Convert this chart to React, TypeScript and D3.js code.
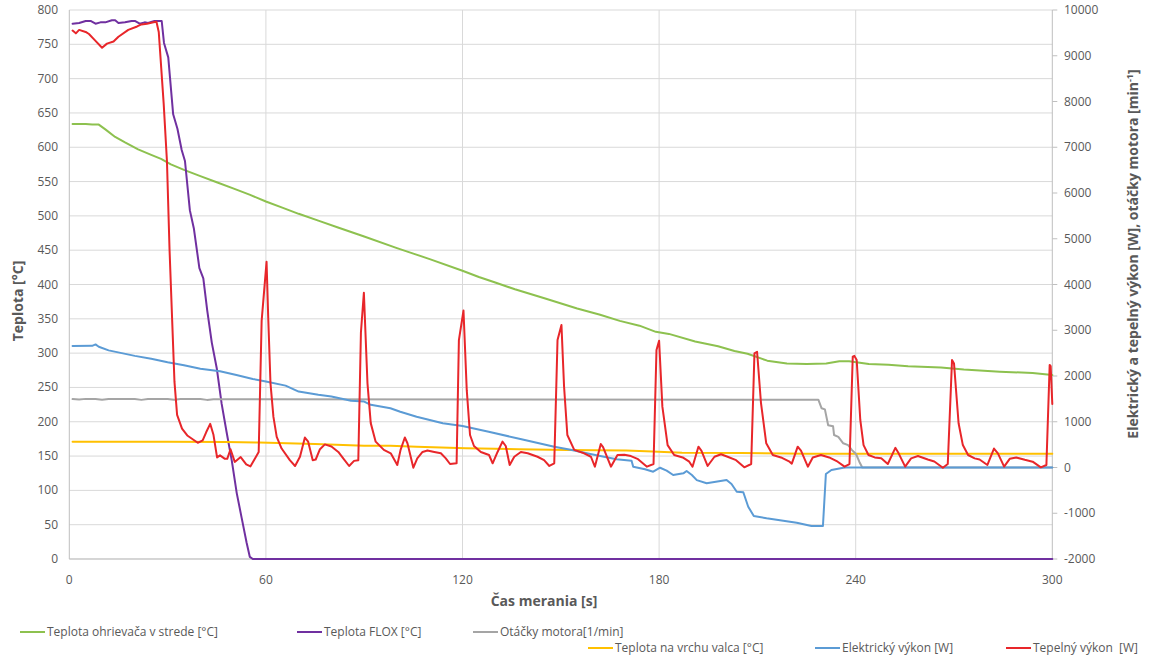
import * as d3 from 'd3';

type Pt = [number, number];

// tick labels
const casTicks = [0, 60, 120, 180, 240, 300];
const teplotaTicks = [0, 50, 100, 150, 200, 250, 300, 350, 400, 450, 500, 550, 600, 650, 700, 750, 800];
const vykonTicks = [-2000, -1000, 0, 1000, 2000, 3000, 4000, 5000, 6000, 7000, 8000, 9000, 10000];

// primary axis series [s, °C]
const teplotaOhrievaca: Pt[] = [
  [1, 634], [5, 634], [7, 633], [9, 633], [11, 626], [14, 615], [17, 607], [21, 597], [25, 589],
  [28, 583], [31, 575], [35, 567], [40, 558], [45, 549], [50, 540], [55, 531], [60, 521], [65, 512],
  [70, 503], [76, 493], [82, 483], [90, 470], [100, 453], [105, 445], [110, 437], [120, 420],
  [125, 411], [130, 403], [136, 393], [145, 380], [155, 365], [162, 356], [168, 347], [174, 340],
  [179, 331], [183, 328], [191, 317], [198, 310], [203, 303], [207, 299], [213, 289], [219, 285],
  [225, 284], [231, 285], [235, 288], [238, 288], [244, 284], [250, 283], [256, 281], [266, 279],
  [273, 276], [284, 273], [294, 271], [300, 268],
];

const teplotaFlox: Pt[] = [
  [1, 780], [3, 781], [5, 784], [6.5, 784], [8, 780], [9.5, 782], [11, 782], [13, 785], [14, 785],
  [15, 781], [17, 782], [19, 784], [20, 784], [21.5, 780], [23, 782], [24, 781], [26, 784],
  [28.2, 784], [28.9, 752], [30.2, 731], [31.7, 648], [33, 627], [34.3, 596], [35.3, 580],
  [36.8, 508], [38, 482], [39.7, 424], [40.9, 409], [42.1, 362], [43.5, 315], [45, 278],
  [46.5, 226], [48, 185], [49.6, 143], [51.1, 96], [52.6, 60], [54.1, 24], [55.1, 3], [56, 0],
  [300, 0],
];

const teplotaValca: Pt[] = [
  [1, 171], [30, 171], [48, 170.5], [58, 169.6], [75, 167.6], [90, 165], [98, 165], [106, 163.7],
  [121, 161.3], [137, 160], [152, 159], [170, 158], [178, 156.5], [187, 155], [205, 154.5],
  [225, 153.5], [300, 153.5],
];

// secondary axis series [s, W] / [s, 1/min]
const otackyMotora: Pt[] = [
  [1, 1495], [3, 1488], [5, 1500], [8, 1498], [10, 1480], [12, 1495], [20, 1495], [22, 1478],
  [24, 1495], [30, 1495], [32, 1480], [34, 1495], [40, 1495], [42, 1478], [44, 1492], [50, 1490],
  [228.6, 1482], [229.6, 1294], [230.6, 1270], [231.6, 925], [233.1, 900], [233.4, 710],
  [234.7, 670], [236.2, 529], [237.7, 490], [238.8, 385], [240.1, 295], [241.1, 127], [242, 0],
  [300, 0],
];

const elektrickyVykon: Pt[] = [
  [1, 2655], [7, 2660], [8, 2690], [9, 2640], [12, 2560], [16, 2500], [20, 2440], [25, 2375],
  [30, 2300], [35, 2235], [40, 2160], [46, 2105], [51, 2020], [56, 1935], [60, 1880], [66, 1790],
  [70, 1660], [76, 1590], [80, 1550], [86, 1460], [90, 1440], [92, 1370], [98, 1294], [101, 1220],
  [106, 1111], [114, 967], [120, 907], [128, 783], [138, 616], [148, 455], [153, 390], [159, 295],
  [167, 180], [171.6, 150], [172.1, 18], [175.7, -40], [178.2, -92], [180.3, -5], [182.3, -70],
  [184.3, -164], [187.4, -127], [188.4, -77], [190, -164], [191.5, -275], [194.5, -345],
  [200.6, -273], [202.1, -360], [203.7, -529], [205.7, -542], [207.2, -857], [208.9, -1060],
  [212.8, -1110], [217.9, -1163], [222, -1207], [226.5, -1278], [230, -1278], [230.9, -142],
  [232.6, -54], [236.2, -5], [237, 0], [300, 0],
];

const tepelnyVykon: Pt[] = [
  [1, 9550], [2, 9490], [3, 9565], [5, 9520], [6, 9475], [8, 9325], [10, 9175], [11.5, 9265],
  [13.5, 9310], [15, 9415], [18, 9565], [20.7, 9640], [22, 9685], [23.7, 9700], [25.7, 9730],
  [26.6, 9745], [27.3, 9520], [28.8, 7960], [29.8, 6700], [30.6, 4750], [31.4, 3205], [32.1, 1870],
  [32.9, 1150], [34.4, 850], [36, 700], [39.2, 540], [40.7, 595], [41.8, 775], [43, 955], [44, 715],
  [45.1, 220], [46, 265], [47.5, 190], [48.2, 190], [49.2, 400], [50.5, 122], [52.3, 228], [54, 70],
  [55.3, 25], [57.8, 340], [58.7, 3205],
  [60.2, 4495], [60.7, 3295], [61.4, 1840], [62.3, 1105], [63.3, 670], [64.8, 415], [67.3, 160],
  [68.9, 33], [70.4, 235], [71.9, 655], [72.9, 565], [74.3, 160], [75.2, 175], [76.5, 400],
  [78, 505], [80, 460], [82.1, 340], [83.6, 200], [85.4, 33], [86.9, 145], [88.2, 160], [89, 2950],
  [89.9, 3820], [91, 1840], [92, 970], [93.5, 565], [96, 385], [98.1, 310], [100.1, 55], [101.1, 385],
  [102.4, 655], [103.2, 530], [105, -5], [106.2, 200], [107.8, 340], [109.3, 370], [111.4, 340],
  [113.4, 310], [114.9, 200], [116.2, 76], [118.2, 91], [118.9, 2785],
  [120.3, 3430], [121.3, 1690], [122.3, 710], [123.5, 470], [125.6, 340], [128.1, 273], [129.2, 91],
  [130.7, 340], [132.2, 565], [133.2, 470], [134.4, 55], [135.8, 235], [137.8, 340], [139.9, 310],
  [142.9, 235], [144.9, 160], [146.5, 33], [148, 91], [149, 2785],
  [150.2, 3115], [151, 1765], [152, 710], [154.1, 385], [157.1, 310], [159.2, 235], [160.4, 18],
  [162.2, 514], [162.9, 445], [165.3, 18], [167.3, 273], [169.4, 280], [171.4, 250], [173.4, 190],
  [176.3, 18], [178.3, 76], [179.2, 2568],
  [180, 2770], [181, 1330], [182.6, 490], [184.6, 273], [187.2, 220], [189.2, 127], [190.2, 18],
  [192, 455], [192.9, 370], [194.8, 33], [196.9, 235], [198.9, 289], [200.9, 235], [203.5, 160],
  [206, 4], [208.1, 76], [209.1, 2495],
  [209.9, 2530], [211.1, 1405], [212.7, 529], [214.7, 273], [217.2, 220], [219.8, 127], [220.5, 85],
  [222.3, 455], [223.3, 370], [225.4, 18], [226.9, 220], [229.4, 273], [231.9, 220], [234.5, 127],
  [236.6, 18], [238.1, 76], [239.1, 2425],
  [239.6, 2440], [240.3, 2350], [241.4, 1039], [242.4, 490], [243.9, 273], [245.8, 220],
  [247.8, 200], [249.8, 76], [252.1, 430], [253.1, 310], [255.1, 18], [256.9, 200], [259, 250],
  [262, 175], [264, 130], [266.6, -5], [268.1, 76], [269.4, 2350],
  [270, 2275], [271.4, 967], [272.7, 490], [274.3, 273], [276.3, 200], [277.8, 175], [280.2, 55],
  [282.2, 415], [283.4, 310], [285.3, 18], [287, 190], [289, 220], [291.6, 168], [294, 127],
  [296.5, 4], [298.2, 55], [299.2, 2240], [299.5, 2215], [300, 1390],
];

const legendRow1 = [
  { label: 'Teplota ohrievača v strede [°C]', color: '#8dc14f', x: 20 },
  { label: 'Teplota FLOX [°C]', color: '#7030a0', x: 297 },
  { label: 'Otáčky motora[1/min]', color: '#a5a5a5', x: 473 },
];
const legendRow2 = [
  { label: 'Teplota na vrchu valca [°C]', color: '#ffc000', x: 588 },
  { label: 'Elektrický výkon [W]', color: '#5b9bd5', x: 815 },
  { label: 'Tepelný výkon  [W]', color: '#e8262a', x: 1006 },
];

export default function App() {
  const width = 1172;
  const height = 665;
  const left = 69.3, right = 1052.3, top = 10, bottom = 559;
  const font = '"Open Sans", "DejaVu Sans", sans-serif';
  const textColor = '#595959';

  const x = d3.scaleLinear().domain([0, 300]).range([left, right]);
  const yT = d3.scaleLinear().domain([0, 800]).range([bottom, top]);
  const yP = d3.scaleLinear().domain([-2000, 10000]).range([bottom, top]);

  const lineT = d3.line<Pt>().x(d => x(d[0])).y(d => yT(d[1]));
  const lineP = d3.line<Pt>().x(d => x(d[0])).y(d => yP(d[1]));

  const series = [
    { d: lineT(teplotaOhrievaca), color: '#8dc14f' },
    { d: lineT(teplotaFlox), color: '#7030a0' },
    { d: lineT(teplotaValca), color: '#ffc000' },
    { d: lineP(otackyMotora), color: '#a5a5a5' },
    { d: lineP(elektrickyVykon), color: '#5b9bd5' },
    { d: lineP(tepelnyVykon), color: '#e8262a' },
  ];

  return (
    <div style={{ position: 'absolute', left: 0, top: 0, width, height, background: '#fff' }}>
      <svg width={width} height={height} style={{ display: 'block', fontFamily: font }}>
        <rect width={width} height={height} fill="#fff" />
        {/* grid */}
        {teplotaTicks.map(t => (
          <line key={'h' + t} x1={left} x2={right} y1={yT(t)} y2={yT(t)} stroke="#d9d9d9" strokeWidth={1} />
        ))}
        {casTicks.slice(1, -1).map(t => (
          <line key={'v' + t} x1={x(t)} x2={x(t)} y1={top} y2={bottom} stroke="#d9d9d9" strokeWidth={1} />
        ))}
        {/* axes */}
        <line x1={left} x2={left} y1={top} y2={bottom} stroke="#bfbfbf" />
        <line x1={right} x2={right} y1={top} y2={bottom} stroke="#bfbfbf" />
        <line x1={left} x2={right} y1={bottom} y2={bottom} stroke="#bfbfbf" />
        {vykonTicks.map(t => (
          <line key={'rt' + t} x1={right} x2={right + 5} y1={yP(t)} y2={yP(t)} stroke="#bfbfbf" />
        ))}

        {/* series */}
        <g fill="none" strokeLinejoin="round" strokeLinecap="round">
          {series.map((s, i) => (
            <path key={i} d={s.d || ''} stroke={s.color} strokeWidth={2} />
          ))}
        </g>

        {/* tick labels */}
        <g fontSize={12} fill={textColor}>
          {teplotaTicks.map(t => (
            <text key={'lt' + t} x={58} y={yT(t) + 4} textAnchor="end">{t}</text>
          ))}
          {vykonTicks.map(t => (
            <text key={'rl' + t} x={1064} y={yP(t) + 4} textAnchor="start">{t}</text>
          ))}
          {casTicks.map(t => (
            <text key={'xt' + t} x={x(t)} y={584} textAnchor="middle">{t}</text>
          ))}
        </g>

        {/* axis titles */}
        <g fontWeight="bold" fill={textColor} fontSize={14}>
          <text x={544} y={606} textAnchor="middle">Čas merania [s]</text>
          <text transform="translate(23,301) rotate(-90)" textAnchor="middle">Teplota [°C]</text>
          <text transform="translate(1138,254) rotate(-90)" textAnchor="middle">
            Elektrický a tepelný výkon [W], otáčky motora [min
            <tspan fontSize={9} dy={-5}>-1</tspan>
            <tspan dy={5}>]</tspan>
          </text>
        </g>

        {/* legend */}
        <g fontSize={12} fill={textColor}>
          {legendRow1.map(l => (
            <g key={l.label}>
              <line x1={l.x} x2={l.x + 25} y1={632} y2={632} stroke={l.color} strokeWidth={2} />
              <text x={l.x + 27} y={636}>{l.label}</text>
            </g>
          ))}
          {legendRow2.map(l => (
            <g key={l.label}>
              <line x1={l.x} x2={l.x + 25} y1={648} y2={648} stroke={l.color} strokeWidth={2} />
              <text x={l.x + 27} y={652} style={{ whiteSpace: 'pre' }}>{l.label}</text>
            </g>
          ))}
        </g>
      </svg>
    </div>
  );
}
